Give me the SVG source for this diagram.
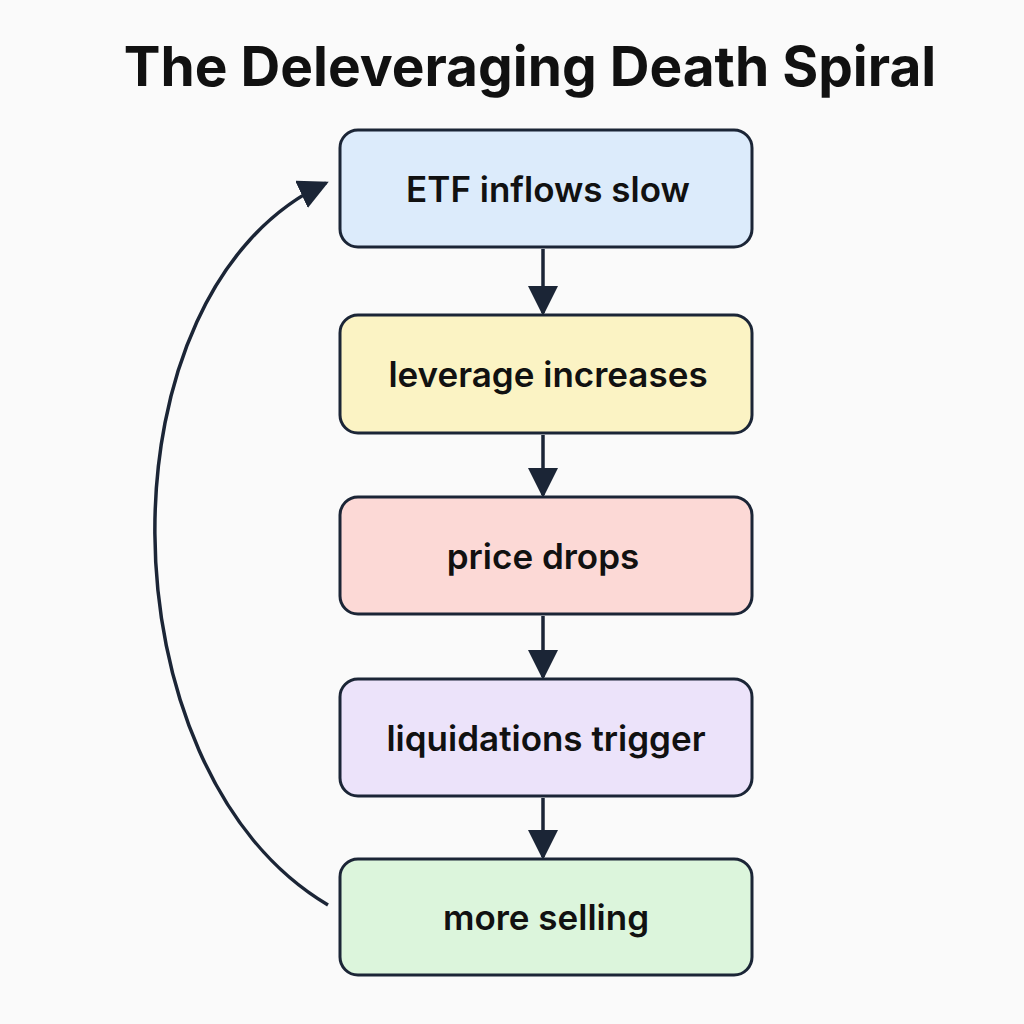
<svg xmlns="http://www.w3.org/2000/svg" width="1024" height="1024" viewBox="0 0 1024 1024">
<style>
.box{stroke:#1b2536;stroke-width:3}
.lbl{font-family:Inter,"Liberation Sans",sans-serif;font-weight:600;font-size:35px;fill:#111;text-anchor:middle;dominant-baseline:central}
.ln{stroke:#1b2536;stroke-width:3.5;fill:none}
</style>
<defs>
<marker id="a2" viewBox="0 0 10 10" refX="9" refY="5" markerWidth="30" markerHeight="30" markerUnits="userSpaceOnUse" orient="auto"><path d="M0,0L10,5L0,10z" fill="#1b2536"/></marker></defs>
<rect width="1024" height="1024" fill="#fafafa"/>
<text x="530" y="66" font-family="Inter,'Liberation Sans',sans-serif" font-weight="700" font-size="55" fill="#111" text-anchor="middle" dominant-baseline="central">The Deleveraging Death Spiral</text>
<g id="n1"><rect class="box" x="340" y="130" width="412" height="117" rx="18" fill="#dcebfb"/><text class="lbl" x="548" y="189">ETF inflows slow</text></g>
<g id="n2"><rect class="box" x="340" y="315" width="412" height="118" rx="18" fill="#fbf3c4"/><text class="lbl" x="548" y="374">leverage increases</text></g>
<g id="n3"><rect class="box" x="340" y="497" width="412" height="117" rx="18" fill="#fcd9d6"/><text class="lbl" x="543" y="556">price drops</text></g>
<g id="n4"><rect class="box" x="340" y="679" width="412" height="117" rx="18" fill="#ece3fa"/><text class="lbl" x="546" y="738">liquidations trigger</text></g>
<g id="n5"><rect class="box" x="340" y="859" width="412" height="116" rx="18" fill="#dcf5dc"/><text class="lbl" x="546" y="917">more selling</text></g>
<g id="connectors">
<line class="ln" x1="543" y1="249" x2="543" y2="313" marker-end="url(#a2)"/>
<line class="ln" x1="543" y1="435" x2="543" y2="495" marker-end="url(#a2)"/>
<line class="ln" x1="543" y1="616" x2="543" y2="677" marker-end="url(#a2)"/>
<line class="ln" x1="543" y1="798" x2="543" y2="857" marker-end="url(#a2)"/>
<path class="ln" d="M328,905 C100,770 95,290 326,183" marker-end="url(#a2)"/>
</g>
</svg>
